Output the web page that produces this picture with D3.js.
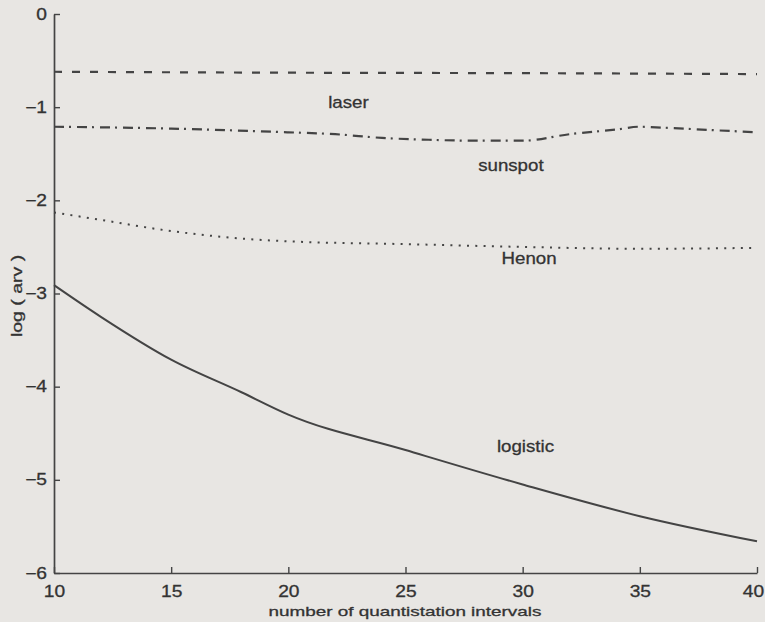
<!DOCTYPE html>
<html>
<head>
<meta charset="utf-8">
<script src="https://cdn.jsdelivr.net/npm/d3@7"></script>
<style>
  body { margin: 0; background: #e8e6e3; }
  svg { display: block; }
  text { font-family: "Liberation Sans", Arial, Helvetica, sans-serif; fill: #333; }
</style>
</head>
<body>
<svg></svg>
<script>
// x values (number of quantistation intervals) for each series
const laserX = [10, 20, 30, 40]
const laserY = [-0.62, -0.63, -0.635, -0.645]

const sunspotX = [10, 15, 20, 22, 24, 26, 28, 30, 32, 34, 35, 36, 38, 40]
const sunspotY = [-1.21, -1.23, -1.27, -1.29, -1.33, -1.35, -1.36, -1.36, -1.29, -1.24, -1.21, -1.22, -1.245, -1.27]

const henonX = [10, 12, 15, 18, 20, 25, 30, 35, 40]
const henonY = [-2.13, -2.21, -2.33, -2.41, -2.44, -2.47, -2.50, -2.52, -2.51]

const logisticX = [10, 12, 15, 18, 20, 25, 30, 35, 40]
const logisticY = [-2.91, -3.25, -3.71, -4.06, -4.30, -4.68, -5.05, -5.39, -5.66]

// series labels, placed in data coordinates
const labelText = ['laser', 'sunspot', 'Henon', 'logistic']
const labelX = [21.7, 28.1, 29.1, 28.9]
const labelY = [-1.01, -1.69, -2.68, -4.70]

const xTicks = [10, 15, 20, 25, 30, 35, 40]
const yTicks = [0, -1, -2, -3, -4, -5, -6]

const svgWidth = 765
const svgHeight = 622

const svg = d3.select('svg')
.attr('width', svgWidth)
.attr('height', svgHeight)

svg.append('rect')
.attr('width', svgWidth)
.attr('height', svgHeight)
.attr('fill', '#e8e6e3')

const xScale = d3.scaleLinear().domain([10, 40]).range([54, 757])
const yScale = d3.scaleLinear().domain([-6, 0]).range([573, 14])

const ink = '#444'
const fmt = d3.format('d')

// x-axis, ticks pointing inward
const x_axis = d3.axisBottom(xScale).tickValues(xTicks).tickFormat(fmt)
.tickSizeInner(-6).tickSizeOuter(0).tickPadding(13)
const gx = svg.append('g').attr('transform', 'translate(0, 573)').call(x_axis)

// y-axis
const y_axis = d3.axisLeft(yScale).tickValues(yTicks).tickFormat(fmt)
.tickSizeInner(-6).tickSizeOuter(0).tickPadding(5)
const gy = svg.append('g').attr('transform', 'translate(54, 0)').call(y_axis)

;[gx, gy].forEach(function(g) {
    g.select('.domain').attr('stroke', ink).attr('stroke-width', 1.7)
    g.selectAll('.tick line').attr('stroke', ink).attr('stroke-width', 1.4)
    g.selectAll('.tick text')
    .attr('font-size', 16)
    .attr('fill', '#333')
    .attr('stroke', '#333')
    .attr('stroke-width', 0.3)
    .style('font-family', '"Liberation Sans", Arial, sans-serif')
})
gx.selectAll('.tick text').attr('transform', function(d) {
    return (d === 40 ? 'translate(-4,0) ' : '') + 'scale(1.2,1)'
})
gy.selectAll('.tick text').attr('transform', 'translate(-1,0) scale(1.2,1)')

// lines
const series = [
    {xs: laserX, ys: laserY, dash: '8,10', width: 2.2},
    {xs: sunspotX, ys: sunspotY, dash: '10,5,2,6', width: 2.2},
    {xs: henonX, ys: henonY, dash: '2,6.3', width: 2},
    {xs: logisticX, ys: logisticY, dash: null, width: 2}
]

const line = d3.line()
.x(function(d) { return xScale(d[0]) })
.y(function(d) { return yScale(d[1]) })
.curve(d3.curveMonotoneX)

series.forEach(function(s) {
    svg.append('path')
    .datum(s.xs.map(function(x, i) { return [x, s.ys[i]] }))
    .attr('d', line)
    .attr('fill', 'none')
    .attr('stroke', ink)
    .attr('stroke-width', s.width)
    .attr('stroke-dasharray', s.dash)
})

// series labels
svg.selectAll('.label')
.data(labelText)
.enter()
.append('text')
.attr('class', 'label')
.text(function(d) { return d })
.attr('transform', function(d, i) {
    return 'translate(' + xScale(labelX[i]) + ',' + yScale(labelY[i]) + ') scale(1.1,1)'
})
.attr('font-size', 17)
.attr('stroke', '#333')
.attr('stroke-width', 0.3)

// axis titles
svg.append('text')
.text('number of quantistation intervals')
.attr('transform', 'translate(405, 616) scale(1.4,1)')
.attr('text-anchor', 'middle')
.attr('font-size', 13.5)
.attr('stroke', '#333')
.attr('stroke-width', 0.3)

svg.append('text')
.text('log ( arv )')
.attr('transform', 'translate(22, 296) rotate(-90) scale(1.3,1)')
.attr('text-anchor', 'middle')
.attr('font-size', 15)
.attr('stroke', '#333')
.attr('stroke-width', 0.3)
</script>
</body>
</html>
